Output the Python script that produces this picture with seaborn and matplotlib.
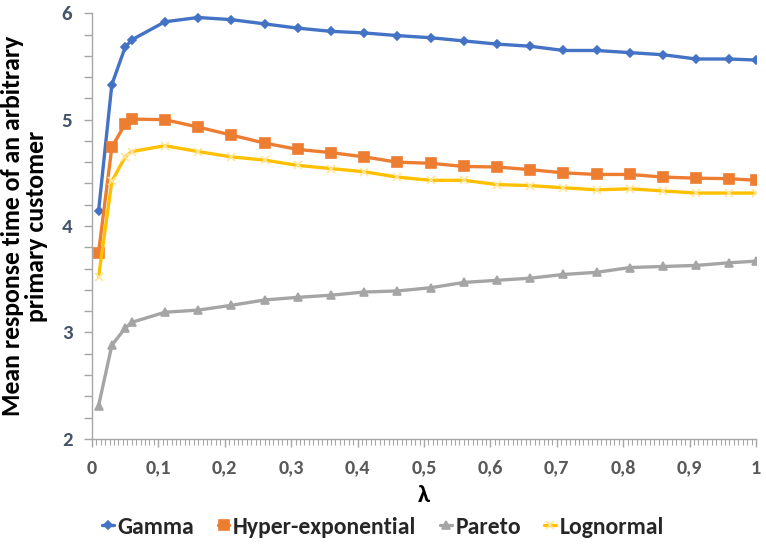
import numpy as np
import pandas as pd
import matplotlib
matplotlib.use("Agg")
import matplotlib.pyplot as plt
from matplotlib.ticker import MultipleLocator, FuncFormatter
import seaborn as sns

lam = [0.01, 0.03, 0.05, 0.06, 0.11, 0.16, 0.21, 0.26, 0.31, 0.36, 0.41, 0.46,
       0.51, 0.56, 0.61, 0.66, 0.71, 0.76, 0.81, 0.86, 0.91, 0.96, 1.0]

gamma = [4.14, 5.33, 5.68, 5.75, 5.92, 5.96, 5.94, 5.90, 5.86, 5.83, 5.815, 5.79,
         5.77, 5.74, 5.71, 5.69, 5.65, 5.65, 5.63, 5.61, 5.57, 5.57, 5.56]
hyper_exp = [3.75, 4.74, 4.96, 5.005, 5.00, 4.93, 4.855, 4.78, 4.72, 4.69, 4.65, 4.60,
             4.59, 4.56, 4.555, 4.53, 4.50, 4.485, 4.485, 4.46, 4.45, 4.445, 4.43]
pareto = [2.31, 2.88, 3.04, 3.095, 3.19, 3.21, 3.255, 3.305, 3.33, 3.35, 3.38, 3.39,
          3.42, 3.47, 3.49, 3.51, 3.545, 3.565, 3.61, 3.62, 3.63, 3.655, 3.67]
lognormal = [3.52, 4.42, 4.65, 4.70, 4.755, 4.70, 4.65, 4.62, 4.57, 4.54, 4.51, 4.46,
             4.43, 4.43, 4.39, 4.38, 4.36, 4.34, 4.35, 4.33, 4.31, 4.31, 4.31]

series_names = ["Gamma", "Hyper-exponential", "Pareto", "Lognormal"]

df = pd.DataFrame({
    "lam": lam * 4,
    "value": gamma + hyper_exp + pareto + lognormal,
    "dist": np.repeat(series_names, len(lam)),
})

sns.set_style("white")
plt.rcParams["font.family"] = ["Carlito", "Roboto Condensed", "Open Sans", "DejaVu Sans"]
plt.rcParams["font.weight"] = "bold"

styles = {
    "Gamma": dict(color="#4472C4", marker="D", ms=4.5, mfc="#4472C4", mec="#4472C4"),
    "Hyper-exponential": dict(color="#ED7D31", marker="s", ms=6.5, mfc="#ED7D31", mec="#ED7D31"),
    "Pareto": dict(color="#A5A5A5", marker="^", ms=6, mfc="#A5A5A5", mec="#A5A5A5"),
    "Lognormal": dict(color="#FFC000", marker="x", ms=6, mfc="#FFE699", mec="#FFE699"),
}

fig, ax = plt.subplots(figsize=(7.66, 5.52), dpi=100)
fig.subplots_adjust(left=0.12, right=0.987, top=0.976, bottom=0.205)

for name in series_names:
    st = styles[name]
    sub = df[df["dist"] == name]
    sns.lineplot(data=sub, x="lam", y="value", ax=ax, color=st["color"], linewidth=2.4,
                 marker=st["marker"], markersize=st["ms"], markerfacecolor=st["mfc"],
                 markeredgecolor=st["mec"], markeredgewidth=1.2, label=name, legend=False)

ax.set_xlim(0, 1)
ax.set_ylim(2, 6)
ax.xaxis.set_major_locator(MultipleLocator(0.1))
ax.xaxis.set_minor_locator(MultipleLocator(1 / 150))
ax.yaxis.set_major_locator(MultipleLocator(1))
ax.yaxis.set_minor_locator(MultipleLocator(0.2))
ax.xaxis.set_major_formatter(FuncFormatter(lambda v, p: ("%g" % round(v, 2)).replace(".", ",")))
ax.yaxis.set_major_formatter(FuncFormatter(lambda v, p: "%d" % v))

for s in ["top", "right"]:
    ax.spines[s].set_visible(False)
for s in ["left", "bottom"]:
    ax.spines[s].set_color("#A6A6A6")
    ax.spines[s].set_linewidth(1.0)

ax.tick_params(axis="x", which="major", length=6, width=1, color="#A6A6A6", direction="out",
               labelsize=14.5, labelcolor="#595959", pad=9)
ax.tick_params(axis="x", which="minor", length=4, width=0.8, color="#A6A6A6", direction="out")
ax.tick_params(axis="y", which="major", length=6, width=1, color="#A6A6A6", direction="out",
               labelsize=15, labelcolor="#44546A", pad=8)
ax.tick_params(axis="y", which="minor", length=6, width=1, color="#A6A6A6", direction="out")
ax.tick_params(which="both", bottom=True, left=True)

ax.set_xlabel("λ", fontsize=18, fontweight="bold", color="black", labelpad=6)
ax.set_ylabel("Mean response time of an arbitrary\nprimary customer", fontsize=18.5,
              fontweight="bold", color="black", labelpad=10, linespacing=1.05)

handles = ax.get_lines()
fig.legend(handles, series_names, loc="center", bbox_to_anchor=(0.5, 0.045), ncol=4,
           frameon=False, handlelength=0.5, handletextpad=0.15, columnspacing=1.0,
           prop={"weight": "bold", "size": 17})

plt.savefig("out.png", dpi=100)
plt.close()
